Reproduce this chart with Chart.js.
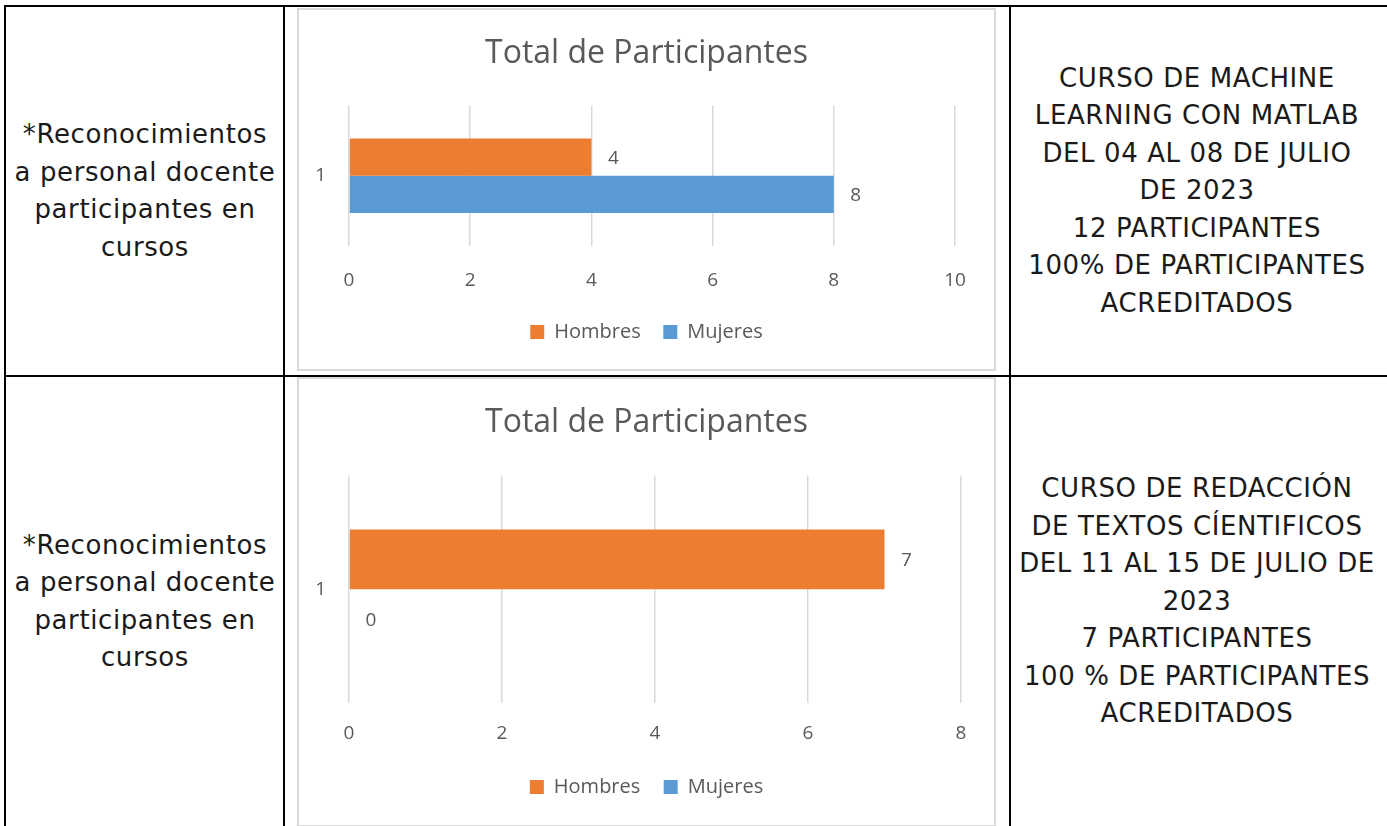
<!DOCTYPE html>
<html>
<head>
<meta charset="utf-8">
<script src="https://cdn.jsdelivr.net/npm/chart.js@4.4.0/dist/chart.umd.min.js"></script>
<style>
  body { margin: 0; background: #fff; width: 1387px; height: 826px; overflow: hidden; position: relative; }
  .line { position: absolute; background: #000; }
  .cell { position: absolute; display: flex; align-items: center; justify-content: center; text-align: center;
          font-family: "DejaVu Sans", sans-serif; font-size: 26px; letter-spacing: 0.6px; line-height: 37.5px; color: #1a1a1a; }
  .box { position: absolute; border: 2px solid #d9d9d9; box-sizing: border-box; background: #fff; }
  .box canvas { position: absolute; left: 0; top: 0; }
</style>
</head>
<body>
<div class="line" style="left:5px;top:5px;width:1382px;height:2px"></div>
<div class="line" style="left:5px;top:375px;width:1382px;height:2px"></div>
<div class="line" style="left:4px;top:5px;width:2px;height:821px"></div>
<div class="line" style="left:283px;top:5px;width:2px;height:821px"></div>
<div class="line" style="left:1009px;top:5px;width:2px;height:821px"></div>

<div class="cell" style="left:6px;top:7px;width:278px;height:368px">*Reconocimientos<br>a personal docente<br>participantes en<br>cursos</div>
<div class="cell" style="left:1011px;top:7px;width:372px;height:368px">CURSO DE MACHINE<br>LEARNING CON MATLAB<br>DEL 04 AL 08 DE JULIO<br>DE 2023<br>12 PARTICIPANTES<br>100% DE PARTICIPANTES<br>ACREDITADOS</div>
<div class="cell" style="left:6px;top:377px;width:278px;height:449px">*Reconocimientos<br>a personal docente<br>participantes en<br>cursos</div>
<div class="cell" style="left:1011px;top:377px;width:372px;height:449px">CURSO DE REDACCIÓN<br>DE TEXTOS CÍENTIFICOS<br>DEL 11 AL 15 DE JULIO DE<br>2023<br>7 PARTICIPANTES<br>100 % DE PARTICIPANTES<br>ACREDITADOS</div>

<div class="box" style="left:297px;top:8px;width:699px;height:363px"><canvas id="c1" width="695" height="359"></canvas></div>
<div class="box" style="left:297px;top:377px;width:699px;height:450px"><canvas id="c2" width="695" height="446"></canvas></div>

<script>
const categories = ["1"];
const seriesNames = ["Hombres", "Mujeres"];
const hombres1 = [4];
const mujeres1 = [8];
const hombres2 = [7];
const mujeres2 = [0];
const xMax1 = 10;
const xMax2 = 8;
const chartTitle = "Total de Participantes";

const orange = "#ED7D31";
const blue = "#5B9BD5";
const grey = "#595959";
const font = "'Open Sans', Lato, sans-serif";

// draws the value next to the end of each bar
const valueLabels = {
    id: "valueLabels",
    afterDatasetsDraw(chart) {
        const ctx = chart.ctx;
        ctx.save();
        ctx.font = "19px " + font;
        ctx.fillStyle = grey;
        ctx.textAlign = "center";
        ctx.textBaseline = "middle";
        chart.data.datasets.forEach((ds, i) => {
            chart.getDatasetMeta(i).data.forEach((bar, j) => {
                ctx.fillText(ds.data[j], bar.x + 22, bar.y + 1);
            });
        });
        ctx.restore();
    }
};

function makeChart(id, hombres, mujeres, xMax, pad) {
    new Chart(document.getElementById(id), {
        type: "bar",
        data: {
            labels: categories,
            datasets: [
                { label: seriesNames[0], data: hombres, backgroundColor: orange },
                { label: seriesNames[1], data: mujeres, backgroundColor: blue }
            ]
        },
        options: {
            indexAxis: "y",
            responsive: false,
            animation: false,
            categoryPercentage: pad.cat,
            barPercentage: 1,
            layout: { padding: { left: 0, right: 0, top: 0, bottom: pad.bottom } },
            plugins: {
                title: {
                    display: true,
                    text: chartTitle,
                    color: grey,
                    font: { family: font, size: 32, weight: "normal" },
                    padding: { top: 25, bottom: pad.titleBottom }
                },
                legend: {
                    position: "bottom",
                    labels: {
                        color: grey,
                        font: { family: font, size: 20 },
                        boxWidth: 14,
                        boxHeight: 14,
                        padding: pad.legend,
                        // a little extra room after the first item, like the original
                        generateLabels(chart) {
                            const items = Chart.defaults.plugins.legend.labels.generateLabels(chart);
                            items[0].text += "\u00A0".repeat(pad.gap);
                            return items;
                        }
                    }
                },
                tooltip: { enabled: false }
            },
            scales: {
                x: {
                    min: 0,
                    max: xMax,
                    ticks: { stepSize: 2, color: grey, font: { family: font, size: 19 }, padding: pad.tick },
                    grid: { color: "#d9d9d9", lineWidth: 1.5, drawTicks: false },
                    border: { display: false }
                },
                y: {
                    ticks: { color: grey, font: { family: font, size: 19 }, padding: 23 },
                    grid: { display: false, drawTicks: false },
                    border: { display: false },
                    afterFit(scale) { scale.width = 50; }
                },
                // empty right axis, only keeps room on the right of the plot
                yRight: {
                    type: "linear",
                    position: "right",
                    ticks: { display: false },
                    grid: { display: false, drawTicks: false },
                    border: { display: false },
                    afterFit(scale) { scale.width = pad.right; }
                }
            }
        },
        plugins: [valueLabels]
    });
}

makeChart("c1", hombres1, mujeres1, xMax1, { cat: 0.53, right: 39, bottom: 17, titleBottom: 32, legend: 7, tick: 23, gap: 3 });
makeChart("c2", hombres2, mujeres2, xMax2, { cat: 0.525, right: 33, bottom: 18, titleBottom: 33, legend: 13, tick: 19, gap: 2 });
</script>
</body>
</html>
